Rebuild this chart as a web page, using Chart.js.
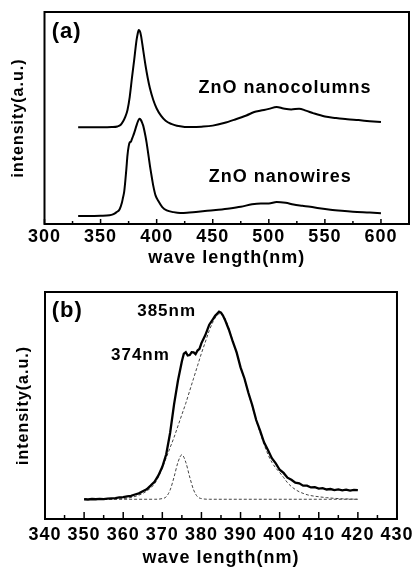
<!DOCTYPE html>
<html>
<head>
<meta charset="utf-8">
<script src="https://cdn.jsdelivr.net/npm/chart.js@4.4.0/dist/chart.umd.min.js"></script>
<style>
  html, body { margin: 0; padding: 0; background: #fff; }
  #wrap { position: relative; width: 419px; height: 567px; }
  canvas { position: absolute; left: 0; }
  #chartA { top: 0; }
  #chartB { top: 270px; }
</style>
</head>
<body>
<div id="wrap">
  <canvas id="chartA" width="419" height="270"></canvas>
  <canvas id="chartB" width="419" height="297"></canvas>
</div>
<script>
// ---- panel (a): PL spectra, arbitrary intensity (0-100 scale) ----
const ticksA = [300, 350, 400, 450, 500, 550, 600];
const waveColumns = [330, 340, 350, 360, 365, 368, 370, 372, 374, 376, 378, 380, 382, 383, 384, 385, 386, 388, 390, 392, 394, 397, 400, 404, 408, 413, 418, 425, 432, 440, 450, 460, 470, 480, 487, 493, 500, 507, 513, 520, 527, 533, 540, 550, 560, 570, 580, 590, 600];
const intColumns = [45.6, 45.6, 45.6, 45.7, 46.0, 46.8, 48.3, 50.5, 53.8, 60.0, 69.0, 77.5, 86.5, 89.5, 91.5, 91.0, 89.0, 82.0, 75.0, 69.0, 64.0, 58.5, 54.5, 51.0, 48.7, 47.2, 46.3, 45.8, 45.7, 45.9, 46.4, 47.6, 49.3, 51.2, 52.8, 53.5, 54.3, 55.2, 54.5, 54.0, 54.4, 53.5, 52.2, 50.7, 50.0, 49.4, 49.0, 48.5, 48.1];

const waveWires = [330, 340, 350, 358, 361, 364, 367, 369, 370, 371, 372, 373, 374, 375, 376, 377, 378, 379, 380, 382, 383, 384, 385, 386, 387, 388, 390, 391, 392, 394, 396, 397, 399, 401.5, 405, 409, 415, 421, 427, 435, 445, 455, 465, 475, 485, 493, 500, 507, 515, 522, 530, 537, 545, 555, 565, 575, 590, 600];
const intWires = [3.8, 3.8, 3.9, 4.1, 4.5, 5.5, 7.0, 10.0, 12.5, 15.0, 20.0, 26.0, 32.5, 36.5, 38.5, 38.8, 40.2, 41.5, 43.0, 46.4, 48.0, 49.2, 49.6, 49.0, 47.8, 46.4, 41.5, 38.5, 35.0, 27.5, 21.0, 18.0, 13.5, 10.9, 8.0, 6.4, 5.6, 5.2, 5.3, 5.7, 6.2, 6.7, 7.3, 8.1, 9.3, 9.7, 9.7, 10.4, 10.0, 9.2, 8.6, 8.1, 7.4, 6.7, 6.2, 5.8, 5.4, 5.1];

// ---- panel (b): nanowire UV band and its two-peak fit ----
const ticksB = [340, 350, 360, 370, 380, 390, 400, 410, 420, 430];
const waveMeasured = [350, 351, 352, 353, 354, 355, 356, 357, 358, 359, 360, 361, 362, 363, 364, 365, 366, 367, 368, 369, 370, 371, 372, 373, 374, 375, 375.5, 376, 376.5, 377, 377.5, 378, 378.5, 379, 379.5, 380, 381, 382, 383, 383.5, 384, 384.5, 385, 385.5, 386, 387, 388, 389, 390, 391, 392, 393, 394, 395, 396, 397, 398, 399, 400, 401, 402, 403, 404, 405, 406, 407, 408, 409, 410, 411, 412, 413, 414, 415, 416, 417, 418, 419, 420];
const intMeasured = [8.7, 8.6, 8.8, 8.7, 8.9, 8.8, 9.0, 9.1, 9.2, 9.5, 9.6, 10.0, 10.2, 10.8, 11.3, 12.2, 13.1, 14.7, 16.4, 19.2, 23.0, 28.5, 38.0, 50.5, 61.0, 69.5, 72.8, 73.5, 72.0, 72.2, 73.5, 73.4, 72.6, 74.2, 75.0, 77.5, 81.0, 85.6, 88.2, 89.5, 90.4, 91.3, 90.9, 89.6, 87.8, 83.5, 78.2, 73.4, 66.8, 61.9, 55.6, 50.1, 43.6, 38.9, 33.8, 30.4, 26.8, 24.5, 21.7, 20.3, 18.2, 17.3, 16.0, 15.7, 14.7, 14.7, 13.9, 14.0, 13.4, 13.6, 13.0, 13.2, 12.7, 13.0, 12.6, 12.9, 12.5, 12.8, 12.7];

const waveFit385 = [350, 355, 358, 360, 362, 364, 366, 368, 369, 370, 371, 372, 373, 374, 375, 376, 377, 378, 379, 380, 381, 382, 383, 384, 385, 386, 387, 388, 389, 390, 391, 392, 393, 394, 395, 396, 397, 398, 399, 400, 401, 402, 403, 404, 405, 406, 407, 408, 410, 412, 414, 416, 418, 420];
const intFit385 = [8.7, 8.7, 8.8, 9.0, 9.5, 10.5, 12.3, 15.5, 18.5, 22.5, 27.0, 31.5, 36.0, 41.0, 46.0, 51.0, 56.5, 62.0, 67.5, 73.0, 78.0, 83.0, 87.0, 89.8, 90.5, 88.5, 84.0, 78.5, 73.0, 67.0, 61.5, 55.5, 49.5, 43.5, 38.0, 33.0, 28.5, 25.0, 22.5, 20.5, 18.3, 16.0, 14.3, 13.0, 12.0, 11.3, 10.7, 10.3, 9.8, 9.4, 9.1, 8.9, 8.8, 8.7];

const waveFit374 = [350, 368, 370, 371, 372, 373, 374, 375, 376, 377, 378, 379, 380, 382, 420];
const intFit374 = [8.7, 8.7, 9.0, 9.8, 12.8, 18.5, 25.0, 28.3, 25.0, 18.5, 12.8, 9.8, 9.0, 8.7, 8.7];

const FONT = '"Liberation Sans", Arial, sans-serif';

const toPoints = (xs, ys) => xs.map((x, i) => ({ x: x, y: ys[i] }));

// frame, inward ticks and the text notes of the figure
const paperFrame = {
  id: 'paperFrame',
  beforeDraw(chart) {
    chart.ctx.letterSpacing = '1px';
  },
  afterDraw(chart, args, opts) {
    const { ctx, chartArea: a } = chart;
    const x = chart.scales.x;
    const y = chart.scales.y;
    ctx.save();
    ctx.strokeStyle = '#000';
    ctx.lineWidth = 1.5;
    for (let v = x.min; v <= x.max + 1e-6; v += opts.minorStep) {
      const px = x.getPixelForValue(v);
      const isMajor = Math.abs(((v - x.min) % opts.majorStep)) < 1e-6;
      const len = isMajor ? opts.majorLen : opts.minorLen;
      ctx.beginPath();
      ctx.moveTo(px, a.bottom);
      ctx.lineTo(px, a.bottom - len);
      ctx.stroke();
    }
    ctx.lineWidth = 2;
    ctx.strokeRect(a.left, a.top, a.right - a.left, a.bottom - a.top);

    ctx.fillStyle = '#000';
    ctx.textAlign = 'center';
    ctx.textBaseline = 'middle';
    opts.notes.forEach(n => {
      ctx.font = 'bold ' + n.size + 'px ' + FONT;
      ctx.fillText(n.text, x.getPixelForValue(n.x), y.getPixelForValue(n.y));
    });
    ctx.restore();
  }
};

function makeChart(canvasId, cfg) {
  const ctx = document.getElementById(canvasId);
  return new Chart(ctx, {
    type: 'line',
    data: { datasets: cfg.datasets },
    options: {
      responsive: false,
      animation: false,
      devicePixelRatio: 1,
      layout: { padding: cfg.padding },
      plugins: {
        legend: { display: false },
        tooltip: { enabled: false },
        paperFrame: cfg.frame
      },
      elements: { point: { radius: 0 } },
      scales: {
        x: {
          type: 'linear',
          min: cfg.xMin,
          max: cfg.xMax,
          grid: { display: false, drawTicks: false },
          border: { display: false },
          afterBuildTicks: s => { s.ticks = cfg.xTicks.map(v => ({ value: v })); },
          ticks: {
            autoSkip: false,
            maxRotation: 0,
            padding: cfg.tickPad,
            color: '#000',
            font: { family: FONT, size: 18, weight: 'bold', lineHeight: 1 }
          },
          title: {
            display: true,
            text: 'wave length(nm)',
            color: '#000',
            padding: { top: 0, bottom: cfg.xTitlePad },
            font: { family: FONT, size: 18, weight: 'bold', lineHeight: 1 }
          },
          afterFit: s => { s.height = cfg.xHeight; }
        },
        y: {
          min: 0,
          max: 100,
          grid: { display: false, drawTicks: false },
          border: { display: false },
          ticks: { display: false },
          title: {
            display: true,
            text: 'intensity(a.u.)',
            color: '#000',
            padding: { top: cfg.yTitlePad, bottom: 0 },
            font: { family: FONT, size: 16, weight: 'bold', lineHeight: 1 }
          },
          afterFit: s => { s.width = cfg.yWidth; }
        }
      }
    },
    plugins: [paperFrame]
  });
}

makeChart('chartA', {
  datasets: [
    {
      label: 'ZnO nanocolumns',
      data: toPoints(waveColumns, intColumns),
      borderColor: '#000',
      borderWidth: 2,
      cubicInterpolationMode: 'monotone'
    },
    {
      label: 'ZnO nanowires',
      data: toPoints(waveWires, intWires),
      borderColor: '#000',
      borderWidth: 2,
      cubicInterpolationMode: 'monotone'
    }
  ],
  padding: { left: 0, top: 12, right: 10, bottom: 0 },
  xMin: 300, xMax: 625, xTicks: ticksA,
  tickPad: 4, xTitlePad: 3, xHeight: 46, yWidth: 44.5, yTitlePad: 11,
  frame: {
    minorStep: 25, majorStep: 50, majorLen: 5, minorLen: 3,
    notes: [
      { text: '(a)', x: 319.8, y: 90.7, size: 22 },
      { text: 'ZnO nanocolumns', x: 514.5, y: 64, size: 18 },
      { text: 'ZnO nanowires', x: 510.3, y: 22.3, size: 18 }
    ]
  }
});

makeChart('chartB', {
  datasets: [
    {
      label: 'measured',
      data: toPoints(waveMeasured, intMeasured),
      borderColor: '#000',
      borderWidth: 2.3
    },
    {
      label: 'fit 385nm',
      data: toPoints(waveFit385, intFit385),
      borderColor: '#444',
      borderWidth: 1,
      borderDash: [3, 2],
      cubicInterpolationMode: 'monotone'
    },
    {
      label: 'fit 374nm',
      data: toPoints(waveFit374, intFit374),
      borderColor: '#444',
      borderWidth: 1,
      borderDash: [3, 2],
      cubicInterpolationMode: 'monotone'
    }
  ],
  padding: { left: 0, top: 22, right: 16.5, bottom: 0 },
  xMin: 340, xMax: 430, xTicks: ticksB,
  tickPad: 7, xTitlePad: 0, xHeight: 48, yWidth: 45, yTitlePad: 16,
  frame: {
    minorStep: 5, majorStep: 10, majorLen: 7, minorLen: 4,
    notes: [
      { text: '(b)', x: 345.7, y: 91.6, size: 22 },
      { text: '385nm', x: 371.1, y: 91.3, size: 17 },
      { text: '374nm', x: 364.4, y: 72.2, size: 17 }
    ]
  }
});
</script>
</body>
</html>
